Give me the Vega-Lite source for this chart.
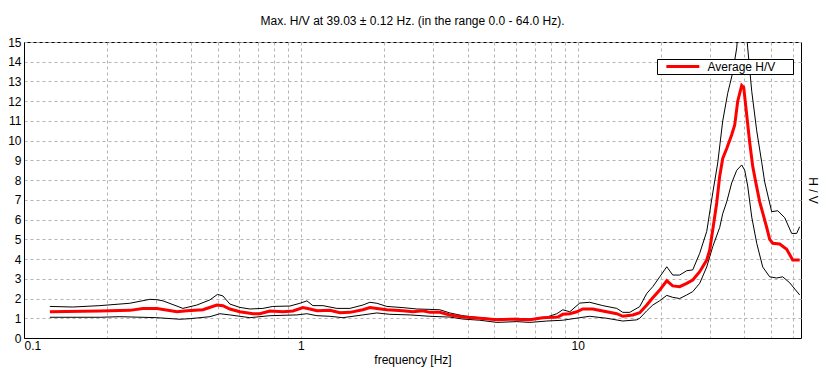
{
  "$schema": "https://vega.github.io/schema/vega-lite/v6.json",
  "width": 777,
  "height": 296,
  "autosize": "none",
  "padding": {"left": 24, "top": 42, "right": 25, "bottom": 43},
  "background": "white",
  "title": {"text": "Max. H/V at 39.03 ± 0.12 Hz. (in the range 0.0 - 64.0 Hz).", "font": "Liberation Sans", "fontSize": 12, "fontWeight": "normal", "color": "black", "offset": 8},
  "config": {
    "view": {"stroke": "black", "strokeWidth": 1},
    "axis": {"labelFont": "Liberation Sans", "labelFontSize": 12, "labelColor": "black", "titleFont": "Liberation Sans", "titleFontSize": 12, "titleFontWeight": "normal", "titleColor": "black", "ticks": false, "domainColor": "black", "gridColor": "#b4b4b4", "gridDash": [3, 3], "gridOpacity": 1},
    "legend": {"labelFont": "Liberation Sans", "labelFontSize": 12, "labelColor": "black"}
  },
  "data": {"values": [
    {"f":0.124,"v":1.60,"s":"upper"},{"f":0.150,"v":1.57,"s":"upper"},{"f":0.188,"v":1.64,"s":"upper"},{"f":0.241,"v":1.76,"s":"upper"},{"f":0.285,"v":1.96,"s":"upper"},{"f":0.302,"v":1.94,"s":"upper"},{"f":0.318,"v":1.88,"s":"upper"},{"f":0.375,"v":1.50,"s":"upper"},{"f":0.421,"v":1.67,"s":"upper"},{"f":0.469,"v":1.93,"s":"upper"},{"f":0.500,"v":2.21,"s":"upper"},{"f":0.523,"v":2.13,"s":"upper"},{"f":0.554,"v":1.72,"s":"upper"},{"f":0.602,"v":1.55,"s":"upper"},{"f":0.654,"v":1.47,"s":"upper"},{"f":0.729,"v":1.50,"s":"upper"},{"f":0.792,"v":1.60,"s":"upper"},{"f":0.913,"v":1.62,"s":"upper"},{"f":0.992,"v":1.76,"s":"upper"},{"f":1.051,"v":1.88,"s":"upper"},{"f":1.105,"v":1.64,"s":"upper"},{"f":1.201,"v":1.64,"s":"upper"},{"f":1.349,"v":1.50,"s":"upper"},{"f":1.503,"v":1.50,"s":"upper"},{"f":1.674,"v":1.67,"s":"upper"},{"f":1.775,"v":1.81,"s":"upper"},{"f":1.881,"v":1.76,"s":"upper"},{"f":2.044,"v":1.60,"s":"upper"},{"f":2.335,"v":1.54,"s":"upper"},{"f":2.623,"v":1.47,"s":"upper"},{"f":2.922,"v":1.45,"s":"upper"},{"f":3.175,"v":1.43,"s":"upper"},{"f":3.451,"v":1.27,"s":"upper"},{"f":3.844,"v":1.13,"s":"upper"},{"f":4.429,"v":1.03,"s":"upper"},{"f":5.100,"v":0.96,"s":"upper"},{"f":6.022,"v":1.00,"s":"upper"},{"f":6.708,"v":0.96,"s":"upper"},{"f":7.729,"v":1.06,"s":"upper"},{"f":8.400,"v":1.23,"s":"upper"},{"f":8.826,"v":1.43,"s":"upper"},{"f":9.357,"v":1.33,"s":"upper"},{"f":10.17,"v":1.77,"s":"upper"},{"f":11.05,"v":1.81,"s":"upper"},{"f":12.31,"v":1.64,"s":"upper"},{"f":13.83,"v":1.50,"s":"upper"},{"f":14.54,"v":1.30,"s":"upper"},{"f":15.41,"v":1.30,"s":"upper"},{"f":16.74,"v":1.59,"s":"upper"},{"f":17.75,"v":2.26,"s":"upper"},{"f":18.66,"v":2.60,"s":"upper"},{"f":19.77,"v":3.10,"s":"upper"},{"f":20.96,"v":3.61,"s":"upper"},{"f":22.03,"v":3.19,"s":"upper"},{"f":23.34,"v":3.19,"s":"upper"},{"f":24.74,"v":3.41,"s":"upper"},{"f":26.01,"v":3.45,"s":"upper"},{"f":27.56,"v":4.29,"s":"upper"},{"f":29.22,"v":5.40,"s":"upper"},{"f":30.72,"v":7.35,"s":"upper"},{"f":32.02,"v":8.87,"s":"upper"},{"f":33.38,"v":11.0,"s":"upper"},{"f":34.79,"v":12.4,"s":"upper"},{"f":36.27,"v":13.45,"s":"upper"},{"f":37.50,"v":14.7,"s":"upper"},{"f":38.40,"v":16.5,"s":"upper"},{"f":39.09,"v":17.5,"s":"upper"},{"f":40.08,"v":16.5,"s":"upper"},{"f":41.09,"v":14.7,"s":"upper"},{"f":42.49,"v":12.5,"s":"upper"},{"f":44.29,"v":10.5,"s":"upper"},{"f":46.17,"v":8.9,"s":"upper"},{"f":47.33,"v":7.9,"s":"upper"},{"f":50.16,"v":6.4,"s":"upper"},{"f":52.72,"v":6.45,"s":"upper"},{"f":55.88,"v":6.1,"s":"upper"},{"f":59.23,"v":5.3,"s":"upper"},{"f":61.74,"v":5.3,"s":"upper"},{"f":63.30,"v":5.64,"s":"upper"},
    {"f":0.124,"v":1.05,"s":"lower"},{"f":0.188,"v":1.05,"s":"lower"},{"f":0.222,"v":1.08,"s":"lower"},{"f":0.302,"v":1.03,"s":"lower"},{"f":0.366,"v":0.95,"s":"lower"},{"f":0.398,"v":0.98,"s":"lower"},{"f":0.469,"v":1.08,"s":"lower"},{"f":0.510,"v":1.23,"s":"lower"},{"f":0.554,"v":1.17,"s":"lower"},{"f":0.654,"v":1.03,"s":"lower"},{"f":0.773,"v":1.13,"s":"lower"},{"f":0.967,"v":1.17,"s":"lower"},{"f":1.051,"v":1.23,"s":"lower"},{"f":1.143,"v":1.13,"s":"lower"},{"f":1.273,"v":1.10,"s":"lower"},{"f":1.418,"v":1.03,"s":"lower"},{"f":1.674,"v":1.17,"s":"lower"},{"f":1.881,"v":1.27,"s":"lower"},{"f":2.096,"v":1.20,"s":"lower"},{"f":2.475,"v":1.17,"s":"lower"},{"f":2.922,"v":1.10,"s":"lower"},{"f":3.451,"v":1.06,"s":"lower"},{"f":3.844,"v":0.96,"s":"lower"},{"f":4.429,"v":0.90,"s":"lower"},{"f":5.100,"v":0.79,"s":"lower"},{"f":6.022,"v":0.83,"s":"lower"},{"f":6.708,"v":0.79,"s":"lower"},{"f":7.729,"v":0.86,"s":"lower"},{"f":8.826,"v":0.90,"s":"lower"},{"f":10.17,"v":1.03,"s":"lower"},{"f":11.05,"v":1.10,"s":"lower"},{"f":12.73,"v":1.00,"s":"lower"},{"f":14.54,"v":0.86,"s":"lower"},{"f":16.33,"v":0.92,"s":"lower"},{"f":16.74,"v":1.00,"s":"lower"},{"f":17.75,"v":1.38,"s":"lower"},{"f":18.66,"v":1.67,"s":"lower"},{"f":19.77,"v":1.89,"s":"lower"},{"f":20.96,"v":2.16,"s":"lower"},{"f":22.03,"v":2.06,"s":"lower"},{"f":23.34,"v":2.00,"s":"lower"},{"f":24.74,"v":2.18,"s":"lower"},{"f":26.01,"v":2.35,"s":"lower"},{"f":27.56,"v":2.77,"s":"lower"},{"f":29.22,"v":3.60,"s":"lower"},{"f":30.72,"v":4.63,"s":"lower"},{"f":32.55,"v":5.60,"s":"lower"},{"f":33.38,"v":6.30,"s":"lower"},{"f":34.51,"v":6.90,"s":"lower"},{"f":35.97,"v":7.86,"s":"lower"},{"f":37.50,"v":8.50,"s":"lower"},{"f":39.09,"v":8.77,"s":"lower"},{"f":40.08,"v":8.50,"s":"lower"},{"f":41.09,"v":7.70,"s":"lower"},{"f":42.49,"v":6.13,"s":"lower"},{"f":44.29,"v":4.80,"s":"lower"},{"f":46.55,"v":3.60,"s":"lower"},{"f":49.33,"v":3.10,"s":"lower"},{"f":52.29,"v":3.04,"s":"lower"},{"f":54.96,"v":3.10,"s":"lower"},{"f":58.25,"v":2.80,"s":"lower"},{"f":63.30,"v":2.18,"s":"lower"},
    {"f":0.124,"v":1.33,"s":"Average H/V"},{"f":0.188,"v":1.37,"s":"Average H/V"},{"f":0.241,"v":1.40,"s":"Average H/V"},{"f":0.269,"v":1.49,"s":"Average H/V"},{"f":0.302,"v":1.49,"s":"Average H/V"},{"f":0.357,"v":1.33,"s":"Average H/V"},{"f":0.388,"v":1.38,"s":"Average H/V"},{"f":0.443,"v":1.43,"s":"Average H/V"},{"f":0.497,"v":1.67,"s":"Average H/V"},{"f":0.523,"v":1.64,"s":"Average H/V"},{"f":0.554,"v":1.47,"s":"Average H/V"},{"f":0.602,"v":1.33,"s":"Average H/V"},{"f":0.671,"v":1.23,"s":"Average H/V"},{"f":0.711,"v":1.23,"s":"Average H/V"},{"f":0.773,"v":1.37,"s":"Average H/V"},{"f":0.861,"v":1.33,"s":"Average H/V"},{"f":0.936,"v":1.37,"s":"Average H/V"},{"f":1.017,"v":1.54,"s":"Average H/V"},{"f":1.078,"v":1.47,"s":"Average H/V"},{"f":1.143,"v":1.38,"s":"Average H/V"},{"f":1.273,"v":1.40,"s":"Average H/V"},{"f":1.383,"v":1.28,"s":"Average H/V"},{"f":1.503,"v":1.30,"s":"Average H/V"},{"f":1.674,"v":1.43,"s":"Average H/V"},{"f":1.775,"v":1.54,"s":"Average H/V"},{"f":1.881,"v":1.50,"s":"Average H/V"},{"f":2.044,"v":1.43,"s":"Average H/V"},{"f":2.335,"v":1.38,"s":"Average H/V"},{"f":2.537,"v":1.33,"s":"Average H/V"},{"f":2.756,"v":1.38,"s":"Average H/V"},{"f":2.922,"v":1.30,"s":"Average H/V"},{"f":3.175,"v":1.30,"s":"Average H/V"},{"f":3.451,"v":1.17,"s":"Average H/V"},{"f":3.844,"v":1.06,"s":"Average H/V"},{"f":4.429,"v":1.00,"s":"Average H/V"},{"f":5.100,"v":0.93,"s":"Average H/V"},{"f":5.826,"v":0.95,"s":"Average H/V"},{"f":6.708,"v":0.93,"s":"Average H/V"},{"f":7.474,"v":1.03,"s":"Average H/V"},{"f":8.47,"v":1.06,"s":"Average H/V"},{"f":8.826,"v":1.20,"s":"Average H/V"},{"f":9.357,"v":1.23,"s":"Average H/V"},{"f":9.917,"v":1.33,"s":"Average H/V"},{"f":10.42,"v":1.47,"s":"Average H/V"},{"f":11.33,"v":1.47,"s":"Average H/V"},{"f":12.31,"v":1.37,"s":"Average H/V"},{"f":13.83,"v":1.23,"s":"Average H/V"},{"f":14.54,"v":1.10,"s":"Average H/V"},{"f":15.80,"v":1.17,"s":"Average H/V"},{"f":16.74,"v":1.28,"s":"Average H/V"},{"f":17.75,"v":1.67,"s":"Average H/V"},{"f":18.66,"v":2.04,"s":"Average H/V"},{"f":19.77,"v":2.43,"s":"Average H/V"},{"f":20.96,"v":2.90,"s":"Average H/V"},{"f":22.03,"v":2.64,"s":"Average H/V"},{"f":23.34,"v":2.60,"s":"Average H/V"},{"f":24.74,"v":2.77,"s":"Average H/V"},{"f":26.01,"v":2.94,"s":"Average H/V"},{"f":27.56,"v":3.36,"s":"Average H/V"},{"f":29.22,"v":3.95,"s":"Average H/V"},{"f":29.96,"v":4.46,"s":"Average H/V"},{"f":30.72,"v":5.47,"s":"Average H/V"},{"f":31.75,"v":6.84,"s":"Average H/V"},{"f":32.55,"v":8.2,"s":"Average H/V"},{"f":33.38,"v":9.1,"s":"Average H/V"},{"f":34.51,"v":9.6,"s":"Average H/V"},{"f":35.97,"v":10.3,"s":"Average H/V"},{"f":36.88,"v":10.8,"s":"Average H/V"},{"f":37.81,"v":12.0,"s":"Average H/V"},{"f":39.09,"v":12.8,"s":"Average H/V"},{"f":39.75,"v":12.7,"s":"Average H/V"},{"f":40.75,"v":11.3,"s":"Average H/V"},{"f":41.78,"v":9.9,"s":"Average H/V"},{"f":42.84,"v":8.7,"s":"Average H/V"},{"f":43.92,"v":7.9,"s":"Average H/V"},{"f":45.40,"v":6.9,"s":"Average H/V"},{"f":48.12,"v":5.6,"s":"Average H/V"},{"f":49.33,"v":5.0,"s":"Average H/V"},{"f":50.58,"v":4.8,"s":"Average H/V"},{"f":53.61,"v":4.76,"s":"Average H/V"},{"f":56.82,"v":4.5,"s":"Average H/V"},{"f":59.73,"v":3.95,"s":"Average H/V"},{"f":63.30,"v":3.95,"s":"Average H/V"}
  ]},
  "encoding": {
    "x": {"field": "f", "type": "quantitative", "scale": {"type": "log", "domain": [0.1, 64], "nice": false},
      "axis": {"values": [0.1,0.2,0.3,0.4,0.5,0.6,0.7,0.8,0.9,1,2,3,4,5,6,7,8,9,10,20,30,40,50,60], "labelExpr": "datum.value == 0.1 ? '0.1' : datum.value == 1 ? '1' : datum.value == 10 ? '10' : ''", "labelFlush": true, "labelPadding": 2, "title": "frequency [Hz]", "titlePadding": 3, "grid": true, "domainWidth": 1}}
  },
  "layer": [
    {
      "transform": [{"filter": "datum.s != 'Average H/V'"}],
      "mark": {"type": "line", "color": "black", "strokeWidth": 1, "clip": true},
      "encoding": {
        "y": {"field": "v", "type": "quantitative", "scale": {"domain": [0, 15], "nice": false, "zero": true},
          "axis": {"orient": "left", "values": [0,1,2,3,4,5,6,7,8,9,10,11,12,13,14,15], "labelPadding": 3, "title": null, "grid": true}},
        "detail": {"field": "s"}
      }
    },
    {
      "transform": [{"filter": "datum.s == 'Average H/V'"}],
      "mark": {"type": "line", "strokeWidth": 3, "clip": true},
      "encoding": {
        "y": {"field": "v", "type": "quantitative", "scale": {"domain": [0, 15], "nice": false, "zero": true},
          "axis": {"orient": "right", "labels": false, "ticks": false, "domain": false, "grid": false, "title": "H / V", "titlePadding": 4}},
        "color": {"field": "s", "type": "nominal", "scale": {"domain": ["Average H/V"], "range": ["#ff0000"]},
          "legend": {"orient": "none", "legendX": 633, "legendY": 17, "title": null, "strokeColor": "black", "fillColor": "white", "padding": 1.5, "symbolType": "M0.45,0H8.45M29.3,0", "symbolSize": 68, "symbolStrokeWidth": 3, "labelOffset": 37}}
      }
    }
  ],
  "resolve": {"axis": {"y": "independent"}}
}
